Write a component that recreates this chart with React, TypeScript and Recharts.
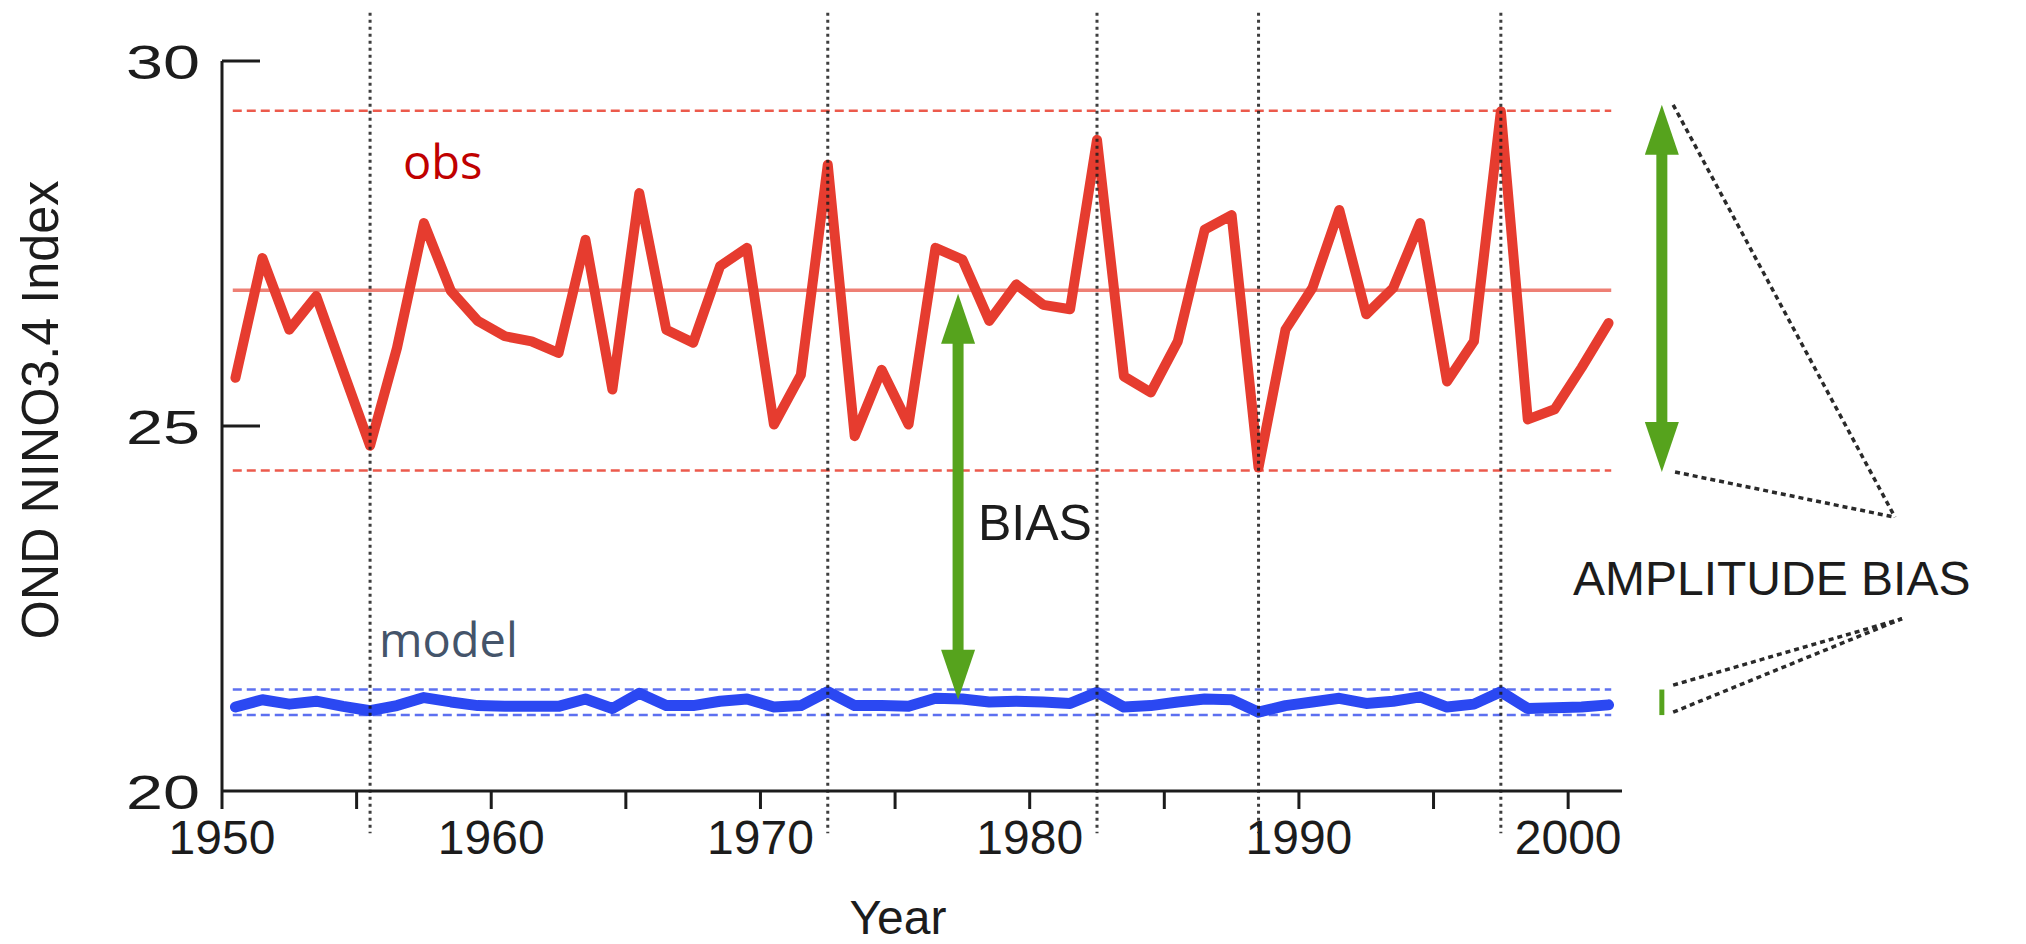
import React from "react";
import { LineChart, Line, XAxis, YAxis, ReferenceLine, ReferenceDot } from "recharts";

// OND NINO3.4 index, observed vs model, one value per year
const years = [
  1950, 1951, 1952, 1953, 1954, 1955, 1956, 1957, 1958, 1959,
  1960, 1961, 1962, 1963, 1964, 1965, 1966, 1967, 1968, 1969,
  1970, 1971, 1972, 1973, 1974, 1975, 1976, 1977, 1978, 1979,
  1980, 1981, 1982, 1983, 1984, 1985, 1986, 1987, 1988, 1989,
  1990, 1991, 1992, 1993, 1994, 1995, 1996, 1997, 1998, 1999,
  2000, 2001,
];

const obs = [
  25.66, 27.3, 26.32, 26.78, 25.75, 24.73, 26.07, 27.78, 26.85, 26.44,
  26.23, 26.16, 26.0, 27.55, 25.5, 28.19, 26.32, 26.14, 27.19, 27.44,
  25.02, 25.7, 28.58, 24.86, 25.77, 25.02, 27.44, 27.28, 26.44, 26.94,
  26.66, 26.6, 28.92, 25.68, 25.46, 26.16, 27.69, 27.89, 24.43, 26.32,
  26.89, 27.96, 26.53, 26.89, 27.78, 25.61, 26.16, 29.31, 25.09, 25.23,
  25.8, 26.41,
];

const model = [
  21.15, 21.25, 21.19, 21.23, 21.16, 21.1, 21.17, 21.28, 21.22, 21.17,
  21.16, 21.16, 21.16, 21.26, 21.13, 21.34, 21.17, 21.17, 21.23, 21.26,
  21.15, 21.17, 21.36, 21.17, 21.17, 21.16, 21.27, 21.26, 21.22, 21.23,
  21.22, 21.2, 21.35, 21.15, 21.17, 21.22, 21.26, 21.25, 21.08, 21.17,
  21.22, 21.27, 21.2, 21.23, 21.29, 21.15, 21.19, 21.36, 21.13, 21.14,
  21.15, 21.18,
];

// mean and spread bands
const obsMean = 26.86;
const obsUpper = 29.32;
const obsLower = 24.39;
const modelUpper = 21.39;
const modelLower = 21.04;

// strong ENSO years marked with dotted verticals
const eventYears = [1955, 1972, 1982, 1988, 1997];

const xTicks = [1950, 1955, 1960, 1965, 1970, 1975, 1980, 1985, 1990, 1995, 2000];
const yTicks = [20, 25, 30];

// annotation anchors in data units
const biasArrow = { x: 1977.34, top: 26.81, bottom: 21.25 };
const ampArrow = { x: 2003.48, top: 29.4, bottom: 24.37 };
const ampApexTop = { x: 2012.14, y: 23.75 };
const ampApexBottom = { x: 2012.4, y: 22.36 };

const RED = "#e63c2f";
const RED_LIGHT = "#ee7f74";
const RED_DASH = "#ec5a4c";
const BLUE = "#2b48f2";
const BLUE_DASH = "#5d70f0";
const GREEN = "#56a31d";
const INK = "#1c1c1c";
const SANS = "'Liberation Sans', Arial, Helvetica, sans-serif";
const SOFT = "'Open Sans', 'Noto Sans', sans-serif";

// points sit mid-year on the axis
const data = years.map((yr, i) => ({ x: yr + 0.5, obs: obs[i], model: model[i] }));

const YTick = (props: any) => {
  const { x, y, payload } = props;
  return (
    <g>
      {payload.value !== 20 && (
        <line x1={x} x2={x + 38} y1={y} y2={y} stroke={INK} strokeWidth={3} />
      )}
      <text
        x={x - 22}
        y={y + 18}
        textAnchor="end"
        fontSize={49}
        fontFamily={SANS}
        fill={INK}
        textLength={74}
        lengthAdjust="spacingAndGlyphs"
      >
        {payload.value}
      </text>
    </g>
  );
};

const label = (text: string, color: string, size: number, family: string) => (p: any) => (
  <text x={p.cx} y={p.cy} fill={color} fontSize={size} fontFamily={family}>
    {text}
  </text>
);

const head = (dir: "up" | "down") => (p: any) => {
  const h = 50;
  const w = 17;
  const s = dir === "up" ? 1 : -1;
  return (
    <path
      d={`M${p.cx},${p.cy} L${p.cx - w},${p.cy + s * h} L${p.cx + w},${p.cy + s * h} Z`}
      fill={GREEN}
    />
  );
};

const pointer = { stroke: "#2a2a2a", strokeWidth: 3.5, strokeDasharray: "5 4", ifOverflow: "visible" as const };

export default function App() {
  return (
    <div style={{ position: "absolute", left: 0, top: 0, background: "#fff" }}>
      <LineChart
        width={2026}
        height={944}
        data={data}
        margin={{ top: 61, right: 404, bottom: 3, left: 0 }}
      >
        <XAxis
          type="number"
          dataKey="x"
          domain={[1950, 2002]}
          ticks={xTicks}
          interval={0}
          height={150}
          tickSize={18}
          tickMargin={11}
          axisLine={{ stroke: INK, strokeWidth: 3 }}
          tickLine={{ stroke: INK, strokeWidth: 3 }}
          tick={{ fontSize: 48, fill: INK, fontFamily: SANS }}
          tickFormatter={(v) => (v % 10 === 0 ? String(v) : "")}
          label={(p: any) => (
            <text
              x={p.viewBox.x + p.viewBox.width / 2 - 24}
              y={p.viewBox.y + p.viewBox.height - 7}
              textAnchor="middle"
              fontSize={48}
              fontFamily={SANS}
              fill={INK}
            >
              Year
            </text>
          )}
        />
        <YAxis
          type="number"
          domain={[20, 30]}
          ticks={yTicks}
          width={222}
          tickSize={0}
          tickMargin={0}
          tickLine={false}
          axisLine={{ stroke: INK, strokeWidth: 3 }}
          tick={YTick}
          label={(p: any) => {
            const cx = p.viewBox.x + 58;
            const cy = p.viewBox.y + p.viewBox.height / 2 - 16;
            return (
              <text
                x={cx}
                y={cy}
                transform={`rotate(-90 ${cx} ${cy})`}
                textAnchor="middle"
                fontSize={51}
                fontFamily={SANS}
                fill={INK}
                textLength={459}
                lengthAdjust="spacingAndGlyphs"
              >
                OND NINO3.4 Index
              </text>
            );
          }}
        />

        <ReferenceLine
          segment={[{ x: 1950.4, y: obsUpper }, { x: 2001.6, y: obsUpper }]}
          stroke={RED_DASH}
          strokeWidth={2.5}
          strokeDasharray="9 5"
        />
        <ReferenceLine
          segment={[{ x: 1950.4, y: obsLower }, { x: 2001.6, y: obsLower }]}
          stroke={RED_DASH}
          strokeWidth={2.5}
          strokeDasharray="9 5"
        />
        <ReferenceLine
          segment={[{ x: 1950.4, y: obsMean }, { x: 2001.6, y: obsMean }]}
          stroke={RED_LIGHT}
          strokeWidth={3.5}
        />
        <ReferenceLine
          segment={[{ x: 1950.4, y: modelUpper }, { x: 2001.6, y: modelUpper }]}
          stroke={BLUE_DASH}
          strokeWidth={2.5}
          strokeDasharray="9 5"
        />
        <ReferenceLine
          segment={[{ x: 1950.4, y: modelLower }, { x: 2001.6, y: modelLower }]}
          stroke={BLUE_DASH}
          strokeWidth={2.5}
          strokeDasharray="9 5"
        />

        <Line
          type="linear"
          dataKey="obs"
          stroke={RED}
          strokeWidth={10}
          strokeLinejoin="round"
          strokeLinecap="round"
          dot={false}
          activeDot={false}
          isAnimationActive={false}
        />
        <Line
          type="linear"
          dataKey="model"
          stroke={BLUE}
          strokeWidth={11}
          strokeLinejoin="round"
          strokeLinecap="round"
          dot={false}
          activeDot={false}
          isAnimationActive={false}
        />

        {eventYears.map((yr) => (
          <ReferenceLine
            key={yr}
            segment={[{ x: yr + 0.5, y: 30.66 }, { x: yr + 0.5, y: 19.42 }]}
            ifOverflow="visible"
            stroke={INK}
            strokeOpacity={0.85}
            strokeWidth={3}
            strokeDasharray="3 4"
          />
        ))}

        {/* BIAS arrow */}
        <ReferenceLine
          segment={[
            { x: biasArrow.x, y: biasArrow.top - 0.45 },
            { x: biasArrow.x, y: biasArrow.bottom + 0.45 },
          ]}
          stroke={GREEN}
          strokeWidth={11}
        />
        <ReferenceDot x={biasArrow.x} y={biasArrow.top} ifOverflow="visible" shape={head("up")} />
        <ReferenceDot x={biasArrow.x} y={biasArrow.bottom} ifOverflow="visible" shape={head("down")} />

        {/* amplitude arrow and the model's tiny amplitude */}
        <ReferenceLine
          segment={[
            { x: ampArrow.x, y: ampArrow.top - 0.45 },
            { x: ampArrow.x, y: ampArrow.bottom + 0.45 },
          ]}
          ifOverflow="visible"
          stroke={GREEN}
          strokeWidth={11}
        />
        <ReferenceDot x={ampArrow.x} y={ampArrow.top} ifOverflow="visible" shape={head("up")} />
        <ReferenceDot x={ampArrow.x} y={ampArrow.bottom} ifOverflow="visible" shape={head("down")} />
        <ReferenceLine
          segment={[{ x: ampArrow.x, y: modelUpper }, { x: ampArrow.x, y: modelLower }]}
          ifOverflow="visible"
          stroke={GREEN}
          strokeWidth={5}
        />

        <ReferenceLine segment={[{ x: 2003.9, y: 29.4 }, ampApexTop]} {...pointer} />
        <ReferenceLine segment={[{ x: 2003.97, y: 24.37 }, ampApexTop]} {...pointer} />
        <ReferenceLine segment={[{ x: 2003.9, y: 21.45 }, ampApexBottom]} {...pointer} />
        <ReferenceLine segment={[{ x: 2003.9, y: 21.08 }, ampApexBottom]} {...pointer} />

        <ReferenceDot x={1956.72} y={28.38} ifOverflow="visible" shape={label("obs", "#c00000", 47, SOFT)} />
        <ReferenceDot x={1955.83} y={21.84} ifOverflow="visible" shape={label("model", "#44546a", 47, SOFT)} />
        <ReferenceDot x={1978.08} y={23.44} ifOverflow="visible" shape={label("BIAS", INK, 50, SANS)} />
        <ReferenceDot
          x={2000.18}
          y={22.68}
          ifOverflow="visible"
          shape={label("AMPLITUDE BIAS", INK, 48, SANS)}
        />
      </LineChart>
    </div>
  );
}
